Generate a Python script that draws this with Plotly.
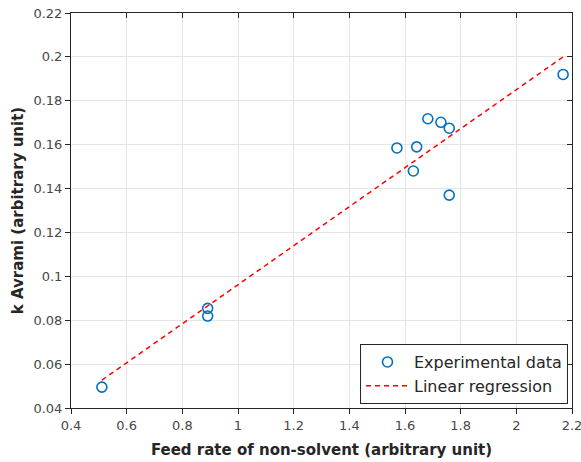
import plotly.graph_objects as go

feed_rate = [0.511, 0.891, 0.891, 1.571, 1.642, 1.630, 1.682, 1.729, 1.759, 1.759, 2.168]
k_avrami = [0.0495, 0.0854, 0.0819, 0.1585, 0.1590, 0.1480, 0.1718, 0.1702, 0.1675, 0.1370, 0.1920]

# Linear regression line endpoints
fit_x = [0.511, 2.168]
fit_y = [0.0527, 0.2000]

x_ticks = [0.4, 0.6, 0.8, 1.0, 1.2, 1.4, 1.6, 1.8, 2.0, 2.2]
x_tick_labels = ["0.4", "0.6", "0.8", "1", "1.2", "1.4", "1.6", "1.8", "2", "2.2"]
y_ticks = [0.04, 0.06, 0.08, 0.10, 0.12, 0.14, 0.16, 0.18, 0.20, 0.22]
y_tick_labels = ["0.04", "0.06", "0.08", "0.1", "0.12", "0.14", "0.16", "0.18", "0.2", "0.22"]

FONT = "DejaVu Sans, sans-serif"
AX = "#262626"
TICK = "#474747"

fig = go.Figure()
fig.add_trace(go.Scatter(
    x=feed_rate, y=k_avrami, mode="markers", name="Experimental data",
    marker=dict(symbol="circle-open", size=10, color="#0072BD",
                line=dict(width=1.6, color="#0072BD")),
))
fig.add_trace(go.Scatter(
    x=fit_x, y=fit_y, mode="lines", name="Linear regression",
    line=dict(color="#FF0000", width=1.5, dash="5px,4px"),
))
# invisible trace to host mirrored inward ticks
fig.add_trace(go.Scatter(x=fit_x, y=fit_y, xaxis="x2", yaxis="y2",
                         mode="lines", line=dict(width=0), showlegend=False,
                         hoverinfo="skip", opacity=0))

xr = [0.4, 2.2]
yr = [0.04, 0.22]
fig.update_layout(
    width=581, height=462,
    margin=dict(l=71, r=9, t=13, b=54),
    paper_bgcolor="white", plot_bgcolor="white",
    font=dict(family=FONT, size=13, color=TICK),
    xaxis=dict(range=xr, tickvals=x_ticks, ticktext=x_tick_labels,
               showgrid=True, gridcolor="#e5e5e5", gridwidth=1,
               showline=True, linecolor=AX, linewidth=1, automargin=False,
               ticklabeloverflow="allow", tickfont=dict(size=13, color=TICK),
               ticks="outside", ticklen=5, tickcolor=AX, zeroline=False,
               title=dict(text="<b>Feed rate of non-solvent (arbitrary unit)</b>",
                          font=dict(size=15, color=AX), standoff=12)),
    yaxis=dict(range=yr, tickvals=y_ticks, ticktext=y_tick_labels,
               showgrid=True, gridcolor="#e5e5e5", gridwidth=1,
               showline=True, linecolor=AX, linewidth=1, automargin=False,
               ticklabeloverflow="allow", tickfont=dict(size=13, color=TICK),
               ticks="outside", ticklen=5, tickcolor=AX, zeroline=False,
               title=dict(text="<b>k Avrami (arbitrary unit)</b>",
                          font=dict(size=15, color=AX), standoff=6)),
    xaxis2=dict(range=xr, tickvals=x_ticks, showticklabels=False, overlaying="x",
                side="top", anchor="y2", showgrid=False, showline=True, linecolor=AX,
                linewidth=1, ticks="inside", ticklen=5, tickcolor=AX, zeroline=False,
                automargin=False),
    yaxis2=dict(range=yr, tickvals=y_ticks, showticklabels=False, overlaying="y",
                side="right", anchor="x2", showgrid=False, showline=True, linecolor=AX,
                linewidth=1, ticks="inside", ticklen=5, tickcolor=AX, zeroline=False,
                automargin=False),
    legend=dict(x=0.992, y=0.01, xanchor="right", yanchor="bottom",
                bgcolor="white", bordercolor=AX, borderwidth=1, itemwidth=43,
                font=dict(size=16, color=AX), tracegroupgap=0),
    showlegend=True,
)

fig.write_html("out.html", config={"displayModeBar": False},
               post_script="document.body.style.margin='0';document.body.style.overflow='hidden';")
